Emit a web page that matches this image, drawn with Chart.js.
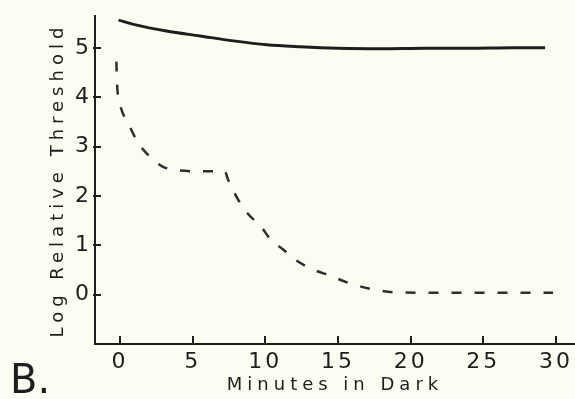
<!DOCTYPE html>
<html>
<head>
<meta charset="utf-8">
<script src="https://cdn.jsdelivr.net/npm/chart.js@4/dist/chart.umd.min.js"></script>
<style>
  html, body { margin: 0; padding: 0; background: #fcfcf2; }
  #wrap { position: relative; width: 575px; height: 399px; }
</style>
</head>
<body>
<div id="wrap"><canvas id="c" width="575" height="399"></canvas></div>
<script>
// minutes in dark / log relative threshold
const coneMinutes = [-0.1, 1, 3.2, 5.5, 7.8, 10.1, 12.4, 15, 18, 21, 24, 27, 29.25];
const coneThreshold = [5.56, 5.47, 5.34, 5.24, 5.14, 5.06, 5.02, 4.99, 4.98, 4.99, 4.99, 5.0, 5.0];

const rodMinutes = [-0.25, -0.2, 0, 0.55, 1.2, 1.9, 2.9, 3.9, 5.5, 7.2, 7.45, 8.1, 8.8, 9.7, 10.3, 11.2, 12.2, 13.2, 14.5, 15.7, 17.2, 18.8, 21, 25, 29.8];
const rodThreshold = [4.72, 4.26, 3.86, 3.48, 3.1, 2.84, 2.6, 2.52, 2.5, 2.5, 2.32, 1.94, 1.64, 1.38, 1.14, 0.92, 0.68, 0.52, 0.38, 0.24, 0.12, 0.05, 0.04, 0.04, 0.04];

const xTicks = [0, 5, 10, 15, 20, 25, 30];
const yTicks = [0, 1, 2, 3, 4, 5];

const ink = '#1e1e1e';
const toPoints = (xs, ys) => xs.map((x, i) => ({ x: x, y: ys[i] }));

// wide lettering for the axis titles, tighter for tick numbers (ticks.z = 1 draws them after the lines)
// plus inward tick marks, the scan has them inside the axes
const lettering = {
    id: 'lettering',
    beforeDraw(chart) {
        chart.ctx.letterSpacing = '5px';
    },
    afterDatasetsDraw(chart) {
        chart.ctx.letterSpacing = '3px';
    },
    afterDraw(chart) {
        const { ctx, chartArea: { left, bottom } } = chart;
        const xs = chart.scales.x, ys = chart.scales.y;
        ctx.save();
        ctx.setLineDash([]);
        ctx.strokeStyle = ink;
        ctx.lineWidth = 2;
        ctx.beginPath();
        xTicks.forEach(v => {
            const px = Math.round(xs.getPixelForValue(v));
            ctx.moveTo(px, bottom);
            ctx.lineTo(px, bottom - 8);
        });
        yTicks.forEach(v => {
            const py = Math.round(ys.getPixelForValue(v));
            ctx.moveTo(left - 2, py);
            ctx.lineTo(left + 6, py);
        });
        ctx.stroke();

        ctx.letterSpacing = '0px';
        ctx.fillStyle = ink;
        ctx.font = '40px "DejaVu Sans"';
        ctx.textAlign = 'left';
        ctx.textBaseline = 'alphabetic';
        ctx.fillText('B.', 10, 393);
        ctx.restore();
    }
};

new Chart(document.getElementById('c'), {
    type: 'scatter',
    data: {
        datasets: [
            {
                data: toPoints(coneMinutes, coneThreshold),
                showLine: true,
                borderColor: ink,
                borderWidth: 3,
                pointRadius: 0,
                cubicInterpolationMode: 'monotone'
            },
            {
                data: toPoints(rodMinutes, rodThreshold),
                showLine: true,
                borderColor: '#2e2e2e',
                borderWidth: 2.5,
                borderDash: [10, 13],
                pointRadius: 0,
                cubicInterpolationMode: 'monotone'
            }
        ]
    },
    options: {
        responsive: false,
        animation: false,
        events: [],
        layout: { padding: { top: 12, right: 0, left: 0, bottom: 0 } },
        plugins: { legend: { display: false }, tooltip: { enabled: false } },
        scales: {
            x: {
                type: 'linear',
                min: -1.72,
                max: 31.31,
                afterFit(scale) { scale.height = 55; },
                afterBuildTicks(scale) { scale.ticks = xTicks.map(v => ({ value: v })); },
                grid: { display: true, drawOnChartArea: false, drawTicks: false },
                border: { display: true, color: ink, width: 2 },
                ticks: {
                    z: 1,
                    color: ink,
                    padding: 5,
                    maxRotation: 0,
                    font: { family: 'DejaVu Sans', size: 22 }
                },
                title: {
                    display: true,
                    text: 'Minutes in Dark',
                    color: ink,
                    font: { family: 'DejaVu Sans', size: 18 },
                    padding: { top: 0, bottom: 3 }
                }
            },
            y: {
                type: 'linear',
                min: -1.0,
                max: 5.64,
                afterFit(scale) { scale.width = 95; },
                afterBuildTicks(scale) { scale.ticks = yTicks.map(v => ({ value: v })); },
                grid: { display: true, drawOnChartArea: false, drawTicks: false },
                border: { display: true, color: ink, width: 2 },
                ticks: {
                    z: 1,
                    color: ink,
                    padding: 3,
                    font: { family: 'DejaVu Sans', size: 22 }
                },
                title: {
                    display: true,
                    text: 'Log Relative Threshold',
                    color: ink,
                    font: { family: 'DejaVu Sans', size: 18 },
                    padding: { top: 48, bottom: 0 }
                }
            }
        }
    },
    plugins: [lettering]
});
</script>
</body>
</html>
